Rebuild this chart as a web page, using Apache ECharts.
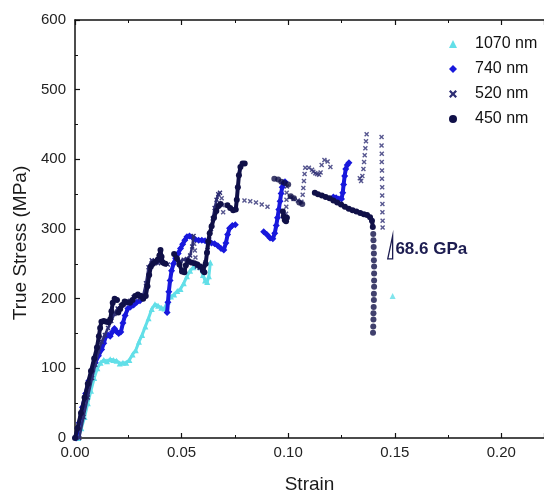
<!DOCTYPE html>
<html><head><meta charset="utf-8">
<script src="https://cdn.jsdelivr.net/npm/echarts@6/dist/echarts.min.js"></script>
<style>html,body{margin:0;padding:0;background:#fff;}#c{width:544px;height:499px;}</style>
</head><body><div id="c"></div>
<script>
// ---------- data (strain, true stress MPa) ----------
const seriesNames = ['1070 nm', '740 nm', '520 nm', '450 nm'];
const xTicks = [0, 0.05, 0.10, 0.15, 0.20];
const yTicks = [0, 100, 200, 300, 400, 500, 600];

const cyan1070 = [[0.0015,0],[0.003,14],[0.0045,30],[0.006,50],[0.0075,68],[0.009,86],[0.0105,100],[0.012,108],[0.0135,112],[0.015,110],[0.0165,113],[0.018,112],[0.0195,111],[0.021,107],[0.0225,108],[0.024,108],[0.0255,112],[0.027,120],[0.0285,126],[0.03,138],[0.0315,148],[0.033,160],[0.0345,172],[0.036,185],[0.0375,192],[0.039,190],[0.0405,187],[0.042,186],[0.0435,196],[0.045,203],[0.0465,206],[0.048,211],[0.0495,214],[0.051,222],[0.0525,232],[0.054,240],[0.0555,245],[0.057,248],[0.0585,246],[0.06,234],[0.061,226],[0.062,224],[0.0628,232],[0.0635,252]];
const cyan1070End = [[0.149,204]];

const blue740a = [[0.0005,0],[0.002,22],[0.0035,44],[0.005,64],[0.0065,82],[0.008,96],[0.0095,108],[0.011,118],[0.0125,127],[0.0135,136],[0.0145,146],[0.0155,148],[0.0165,146],[0.0175,152],[0.0185,157],[0.0195,153],[0.0205,150],[0.0215,152],[0.0225,165],[0.0235,176],[0.0248,186],[0.026,188],[0.0275,191],[0.029,195],[0.0305,197]];
const blue740b = [[0.0432,180],[0.0436,195],[0.044,210],[0.0446,226],[0.0453,240],[0.0462,250],[0.0472,258],[0.0484,265],[0.0495,272],[0.0505,278],[0.0515,284],[0.0525,289],[0.0537,290],[0.055,288],[0.0565,285],[0.058,284],[0.0595,284],[0.061,283],[0.0625,281],[0.064,280],[0.0655,279],[0.067,276],[0.0685,272],[0.0698,270],[0.0708,280],[0.0716,292],[0.0725,301],[0.0738,305],[0.0752,306]];
const blue740c = [[0.0885,296],[0.09,292],[0.0915,287],[0.0928,286],[0.0937,294],[0.0944,305],[0.095,316],[0.0956,328],[0.0962,340],[0.0967,351],[0.0972,360],[0.0978,366],[0.0985,368]];
const blue740d = [[0.1212,346],[0.1225,345],[0.1238,343],[0.125,343],[0.1256,352],[0.126,364],[0.1265,376],[0.127,386],[0.1277,392],[0.1285,395]];

const x520a = [[0.002,0],[0.004,30],[0.006,58],[0.008,86],[0.0095,105],[0.011,124],[0.0125,138],[0.014,148],[0.0155,158],[0.017,168],[0.0185,178],[0.02,186],[0.0215,190],[0.023,192],[0.0245,194],[0.026,197],[0.0275,202],[0.029,203],[0.0305,201],[0.032,205],[0.0333,222],[0.0345,245],[0.036,255],[0.0375,254],[0.039,251],[0.0405,256],[0.042,250],[0.0435,249]];
const x520b = [[0.0495,254],[0.051,256],[0.0525,257],[0.054,262],[0.055,275],[0.0556,290]];
const x520c = [[0.0572,246],[0.0585,244],[0.06,243],[0.0612,252],[0.0622,270],[0.063,285],[0.0638,300],[0.0646,315],[0.0655,330],[0.0664,342],[0.0672,350],[0.068,352]];
const x520Dots = [[0.0559,279],[0.0562,269],[0.0565,259],[0.0568,250],
  [0.0688,344],[0.0692,334],[0.0695,324],
  [0.0795,341],[0.0822,340],[0.0849,338],[0.0876,335],[0.0903,332],
  [0.0990,322],[0.0991,332],[0.0992,342],[0.0993,352],[0.0994,361],
  [0.1008,346],[0.1025,343],[0.1045,341],[0.1062,339],
  [0.1068,349],[0.1071,359],[0.1074,369],[0.1077,379],[0.108,388],
  [0.1097,388],[0.1112,385],[0.1118,382],[0.1127,380],[0.1135,379],[0.1145,378],[0.1152,381],
  [0.1157,392],[0.117,399],[0.1185,397],[0.1198,389],
  [0.1336,373],[0.1342,369],[0.1348,376],[0.1353,386],[0.1356,396],[0.1359,406],[0.1362,416],[0.1365,426],[0.1368,436],
  [0.1438,432],[0.1438,420],[0.1439,408],[0.1439,396],[0.144,384],[0.144,372],[0.1441,360],[0.1441,348],[0.1442,336],[0.1442,324],[0.1443,312],[0.1443,302]];

const d450a = [[0,0],[0.0012,14],[0.0028,36],[0.0045,58],[0.006,78],[0.0075,96],[0.009,114],[0.0103,130],[0.0112,146],[0.0118,158],[0.0124,167],[0.0135,168],[0.0147,167],[0.0158,166],[0.0165,170],[0.0171,182],[0.0177,194],[0.0186,200],[0.0197,198]];
const d450b = [[0.0203,180],[0.0212,185],[0.0222,191],[0.0233,196],[0.0245,195],[0.0258,194],[0.027,198],[0.0282,204],[0.0295,206],[0.0308,204],[0.032,200],[0.0332,204],[0.034,218],[0.0348,234],[0.0356,246],[0.0366,250],[0.0377,253],[0.0388,256],[0.0396,262],[0.0401,270],[0.0406,260],[0.0412,252],[0.0424,250]];
const d450c = [[0.0465,264],[0.0478,258],[0.049,249],[0.0502,239],[0.0513,238],[0.052,248],[0.0532,254],[0.0546,252],[0.056,251],[0.0574,249],[0.0588,246],[0.06,240],[0.0607,238],[0.0613,250],[0.0619,266],[0.0625,282],[0.0632,294],[0.0641,304],[0.0652,316],[0.0663,326],[0.0673,333],[0.0683,336]];
const d450d = [[0.0715,334],[0.0728,330],[0.0742,327],[0.0754,328],[0.0759,342],[0.0764,360],[0.0769,377],[0.0776,389],[0.0786,394],[0.0796,394]];
const d450e = [[0.0975,325],[0.0979,318],[0.0984,313],[0.099,311],[0.0994,316]];
const d450f = [[0.1125,352],[0.114,350],[0.1158,348],[0.1176,346],[0.1194,344],[0.1212,341],[0.123,338],[0.1248,335],[0.1266,332],[0.1284,329],[0.1302,327],[0.132,325],[0.1338,323],[0.1355,321],[0.137,320],[0.1384,317],[0.1393,312],[0.1397,303]];
const d450Dots = [[0.0935,372],[0.0953,371],[0.0968,368],[0.0984,366],[0.1,364],[0.1012,347],[0.1027,344],[0.1052,338],[0.1066,336],
  [0.1399,293],[0.14,284],[0.1401,274],[0.1402,265],[0.1402,255],[0.1403,246],[0.1403,236],[0.1403,226],[0.1403,217],[0.1402,207],[0.1402,198],[0.1401,188],[0.14,179],[0.14,170],[0.1399,160],[0.1398,151]];

// modulus annotation (slope triangle + label), in data coordinates
const annTriangle = [[0.1467,257],[0.149,290],[0.149,257]];
const annLabel = '68.6 GPa';
const annLabelPos = [0.1503, 271];

// ---------- styles ----------
const FONT = 'Liberation Sans, Arial, Helvetica, sans-serif';
const xSym = 'path://M0,2L2,0L5,3L8,0L10,2L7,5L10,8L8,10L5,7L2,10L0,8L3,5Z';
const st = {
  '1070 nm': {color:'#62dfe8', symbol:'triangle', size:6, lw:3, z:2},
  '740 nm':  {color:'#1818dc', symbol:'diamond', size:7, lw:4, z:3},
  '520 nm':  {color:'#2e2e74', symbol:xSym, size:5, lw:2.5, z:4},
  '450 nm':  {color:'#101048', symbol:'circle', size:6, lw:4, z:5}
};
function seg(name, data) {
  const s = st[name];
  return {type:'line', name, data, symbol:s.symbol, symbolSize:s.size, showSymbol:true, showAllSymbol:true,
    itemStyle:{color:s.color}, lineStyle:{color:s.color, width:s.lw}, z:s.z, silent:true, animation:false,
    emphasis:{disabled:true}};
}
function dots(name, data) {
  const s = st[name];
  return {type:'scatter', name, data, symbol:s.symbol, symbolSize:s.size, itemStyle:{color:s.color},
    z:s.z, silent:true, animation:false, emphasis:{disabled:true}};
}

const series = [
  seg('1070 nm', cyan1070), dots('1070 nm', cyan1070End),
  seg('740 nm', blue740a), seg('740 nm', blue740b), seg('740 nm', blue740c), seg('740 nm', blue740d),
  seg('520 nm', x520a), seg('520 nm', x520b), seg('520 nm', x520c), dots('520 nm', x520Dots),
  seg('450 nm', d450a), seg('450 nm', d450b), seg('450 nm', d450c), seg('450 nm', d450d),
  seg('450 nm', d450e), seg('450 nm', d450f), dots('450 nm', d450Dots)
];

const axisLineStyle = {color:'#111', width:1.5};
const tickCfg = {inside:true, length:5, lineStyle:{color:'#111', width:1.2}};
const minorCfg = {show:true, splitNumber:2, length:3, lineStyle:{color:'#111', width:1}};

const chart = echarts.init(document.getElementById('c'), null, {renderer:'canvas', width:544, height:499});
chart.setOption({
  animation:false,
  backgroundColor:'#ffffff',
  textStyle:{fontFamily:FONT},
  grid:{left:75, top:20, width:477, height:424},
  legend:{orient:'vertical', left:444, top:31, itemWidth:8, itemHeight:8, itemGap:9, selectedMode:false,
    textStyle:{fontSize:16, color:'#111', fontFamily:FONT, padding:[0,0,0,13]},
    data:seriesNames.map((n) => ({name:n, icon: st[n].symbol}))},
  xAxis:[{
    type:'value', min:xTicks[0], max:0.22, interval:0.05, position:'bottom',
    name:'Strain', nameLocation:'middle', nameGap:37,
    nameTextStyle:{fontSize:19, color:'#1a1a1a', fontFamily:FONT},
    axisLine:{show:true, onZero:false, lineStyle:axisLineStyle},
    axisTick:tickCfg, minorTick:minorCfg, splitLine:{show:false},
    axisLabel:{fontSize:15, color:'#222', margin:7, showMaxLabel:false, fontFamily:FONT,
      formatter:(v) => xTicks.some(t => Math.abs(t - v) < 1e-9) ? v.toFixed(2) : ''}
  },{
    type:'value', min:xTicks[0], max:0.22, interval:0.05, position:'top',
    axisLine:{show:true, onZero:false, lineStyle:axisLineStyle},
    axisTick:tickCfg, minorTick:minorCfg, splitLine:{show:false}, axisLabel:{show:false}
  }],
  yAxis:[{
    type:'value', min:yTicks[0], max:yTicks[yTicks.length-1], interval:100,
    name:'True Stress (MPa)', nameLocation:'middle', nameGap:41,
    nameTextStyle:{fontSize:19, color:'#1a1a1a', fontFamily:FONT, padding:[0,28,0,0]},
    axisLine:{show:true, onZero:false, lineStyle:axisLineStyle},
    axisTick:tickCfg, minorTick:minorCfg, splitLine:{show:false},
    axisLabel:{fontSize:15, color:'#222', margin:9, fontFamily:FONT}
  }],
  series
});

// annotation placed through the chart's own coordinate conversion
const finder = {xAxisIndex:0, yAxisIndex:0};
const triPts = annTriangle.map(p => chart.convertToPixel(finder, p));
const lblPt = chart.convertToPixel(finder, annLabelPos);
chart.setOption({
  graphic:[
    {type:'polygon', shape:{points:triPts}, style:{fill:'none', stroke:'#1c1c50', lineWidth:1.3}, z:10, silent:true},
    {type:'text', x:lblPt[0], y:lblPt[1], style:{text:annLabel, fill:'#1c1c50', font:'bold 17px ' + FONT,
      textAlign:'left', textVerticalAlign:'middle'}, z:10, silent:true}
  ]
});
</script></body></html>
